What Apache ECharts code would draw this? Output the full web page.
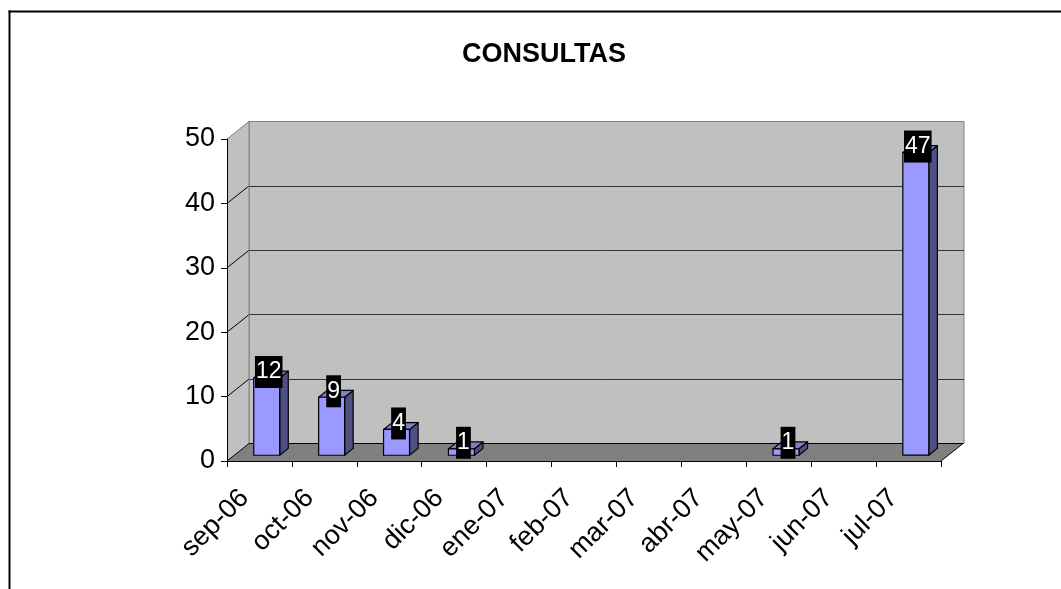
<!DOCTYPE html>
<html><head><meta charset="utf-8">
<script src="https://cdn.jsdelivr.net/npm/echarts@6/dist/echarts.min.js"></script>
<style>html,body{margin:0;padding:0;background:#fff}#c{width:1061px;height:589px}</style>
</head><body><div id="c"></div>
<script>
const categories = ['sep-06','oct-06','nov-06','dic-06','ene-07','feb-07','mar-07','abr-07','may-07','jun-07','jul-07'];
const consultas = [12, 9, 4, 1, null, null, null, null, 1, null, 47];
const yTicks = {min: 0, max: 50, interval: 10};

const FONT = '"Liberation Sans", Arial, sans-serif';
const D = [22, -17.5];   // depth vector of the 3D box
const F1 = 0.33, F2 = 0.72;

const chart = echarts.init(document.getElementById('c'), null, {renderer: 'canvas'});

function frameItem(params, api) {
  const cs = params.coordSys;
  const x0 = cs.x, y0 = cs.y, x1 = cs.x + cs.width, y1 = cs.y + cs.height;
  const children = [];
  children.push({type: 'polygon', shape: {points: [[x0, y1], [x0, y0], [x0 + D[0], y0 + D[1]], [x0 + D[0], y1 + D[1]]]},
    style: {fill: '#C0C0C0', stroke: null}});
  children.push({type: 'polygon', shape: {points: [[x0, y1], [x1, y1], [x1 + D[0], y1 + D[1]], [x0 + D[0], y1 + D[1]]]},
    style: {fill: '#808080', stroke: null}});
  for (let v = yTicks.min; v <= yTicks.max; v += yTicks.interval) {
    const py = api.coord([0, v])[1];
    children.push({type: 'line', shape: {x1: x0, y1: py, x2: x0 + D[0], y2: py + D[1]},
      style: {stroke: v === yTicks.max ? '#808080' : '#000', lineWidth: 1}});
  }
  children.push({type: 'line', shape: {x1: x0 + D[0], y1: y0 + D[1], x2: x0 + D[0], y2: y1 + D[1]}, style: {stroke: '#808080', lineWidth: 1}});
  children.push({type: 'line', shape: {x1: x1, y1: y1, x2: x1 + D[0], y2: y1 + D[1]}, style: {stroke: '#000', lineWidth: 1}});
  children.push({type: 'line', shape: {x1: x0 + D[0], y1: y1 + D[1], x2: x1 + D[0], y2: y1 + D[1]}, style: {stroke: '#000', lineWidth: 1}});
  return {type: 'group', children: children};
}

function barItem(params, api) {
  const v = api.value(1);
  if (v == null || isNaN(v)) return null;
  const idx = api.value(0);
  const base = api.coord([idx, 0]);
  const top = api.coord([idx, v]);
  const bw = api.size([1, 0])[0];
  const w = bw * 0.40;
  const cx = base[0] + D[0] * F1;
  const xl = cx - w / 2, xr = cx + w / 2;
  const yb = base[1] + D[1] * F1, yt = top[1] + D[1] * F1;
  const ddx = D[0] * (F2 - F1), ddy = D[1] * (F2 - F1);
  const st = {stroke: '#000', lineWidth: 1.2, lineJoin: 'round'};
  return {type: 'group', children: [
    {type: 'polygon', shape: {points: [[xr, yt], [xr + ddx, yt + ddy], [xr + ddx, yb + ddy], [xr, yb]]},
      style: Object.assign({fill: '#4F5082'}, st)},
    {type: 'polygon', shape: {points: [[xl, yt], [xr, yt], [xr + ddx, yt + ddy], [xl + ddx, yt + ddy]]},
      style: Object.assign({fill: '#7F80CC'}, st)},
    {type: 'rect', shape: {x: xl, y: yt, width: w, height: yb - yt},
      style: Object.assign({fill: '#9999FF'}, st)},
    {type: 'text', z2: 10, style: {text: String(v), x: cx + 2, y: yt - 6, fill: '#fff', backgroundColor: '#000',
      padding: [4, 1, 5, 1], font: '23px ' + FONT, align: 'center', verticalAlign: 'middle'}}
  ]};
}

const option = {
  animation: false,
  backgroundColor: '#fff',
  title: {text: 'CONSULTAS', left: 457, top: 36,
    textStyle: {fontFamily: FONT, fontSize: 27, fontWeight: 'bold', color: '#000'}},
  grid: [
    {left: 227, top: 139, width: 714, height: 322, show: false},
    {left: 249, top: 121.5, width: 715, height: 322, show: true, backgroundColor: '#C0C0C0', borderColor: '#808080', borderWidth: 1, z: 0}
  ],
  xAxis: [
    {type: 'category', gridIndex: 0, data: categories, z: 5,
      axisLine: {show: true, lineStyle: {color: '#000', width: 1}},
      axisTick: {show: true, length: 6, lineStyle: {color: '#000'}, interval: 0},
      axisLabel: {interval: 0, rotate: 45, margin: 18, padding: [0, 21, 0, 0], fontFamily: FONT, fontSize: 27, color: '#000'}},
    {type: 'category', gridIndex: 1, data: categories, show: false}
  ],
  yAxis: [
    {type: 'value', gridIndex: 0, min: yTicks.min, max: yTicks.max, interval: yTicks.interval, z: 5,
      axisLine: {show: true, lineStyle: {color: '#000', width: 1}},
      axisTick: {show: true, length: 6, lineStyle: {color: '#000'}},
      splitLine: {show: false},
      axisLabel: {margin: 12, fontFamily: FONT, fontSize: 27, color: '#000'}},
    {type: 'value', gridIndex: 1, min: yTicks.min, max: yTicks.max, interval: yTicks.interval,
      axisLine: {show: false}, axisTick: {show: false}, axisLabel: {show: false},
      splitLine: {show: true, lineStyle: {color: ['#333', '#333', '#333', '#333', '#333', '#808080'], width: 1}}}
  ],
  graphic: [
    {type: 'line', shape: {x1: 9.5, y1: 10.5, x2: 9.5, y2: 600}, style: {stroke: '#000', lineWidth: 2}},
    {type: 'line', shape: {x1: 8.5, y1: 11.5, x2: 1070, y2: 11.5}, style: {stroke: '#000', lineWidth: 2}}
  ],
  series: [
    {type: 'custom', name: 'frame', xAxisIndex: 0, yAxisIndex: 0, z: 1, silent: true,
      renderItem: frameItem, data: [[0, 0]], clip: false},
    {type: 'custom', name: 'CONSULTAS', xAxisIndex: 0, yAxisIndex: 0, z: 3,
      renderItem: barItem, clip: false,
      data: consultas.map((v, i) => [i, v])}
  ]
};
chart.setOption(option);
</script></body></html>
